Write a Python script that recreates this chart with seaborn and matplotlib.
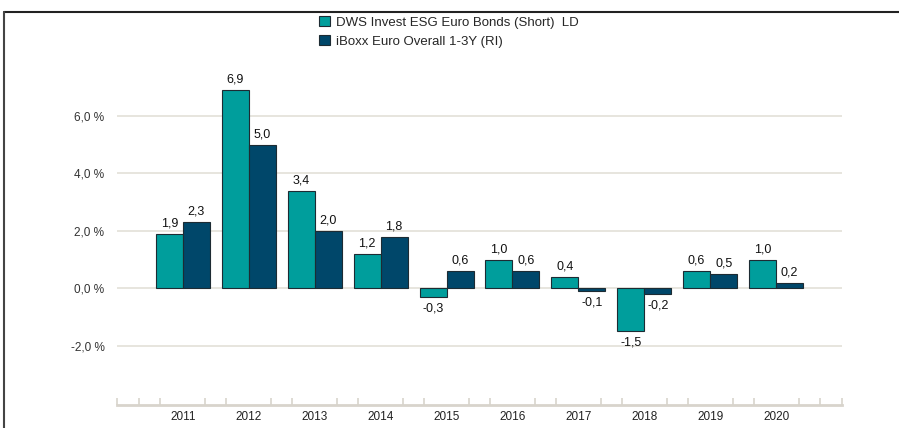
import numpy as np
import pandas as pd
import matplotlib
matplotlib.use('Agg')
import matplotlib.pyplot as plt
from matplotlib.lines import Line2D
from matplotlib.patches import Patch
import seaborn as sns

years = ['2011', '2012', '2013', '2014', '2015', '2016', '2017', '2018', '2019', '2020']
fund_name = 'DWS Invest ESG Euro Bonds (Short)  LD'
bench_name = 'iBoxx Euro Overall 1-3Y (RI)'
fund_vals = [1.9, 6.9, 3.4, 1.2, -0.3, 1.0, 0.4, -1.5, 0.6, 1.0]
bench_vals = [2.3, 5.0, 2.0, 1.8, 0.6, 0.6, -0.1, -0.2, 0.5, 0.2]
ytick_vals = [-2, 0, 2, 4, 6]

teal = '#009E9C'
navy = '#00476A'

df = pd.DataFrame({
    'year': years * 2,
    'value': fund_vals + bench_vals,
    'series': [fund_name] * len(years) + [bench_name] * len(years),
})

sns.set_style('white')
plt.rcParams['font.family'] = ['Liberation Sans', 'DejaVu Sans']

fig = plt.figure(figsize=(8.99, 4.28), dpi=100)
ax = fig.add_axes([0.1301, 0.0537, 0.8065, 0.7763])

sns.barplot(data=df, x='year', y='value', hue='series', order=years,
            hue_order=[fund_name, bench_name], palette=[teal, navy],
            saturation=1, width=0.82, edgecolor='#1d2b33', linewidth=0.8, ax=ax,
            legend=False)

# value labels
for cont in ax.containers:
    for bar in cont:
        h = bar.get_height()
        x = bar.get_x() + bar.get_width() / 2
        txt = f'{h:.1f}'.replace('.', ',')
        if h >= 0:
            ax.text(x, h + 0.15, txt, ha='center', va='bottom', fontsize=9, color='#111111')
        else:
            ax.text(x, h - 0.18, txt, ha='center', va='top', fontsize=9, color='#111111')

ax.set_xlim(-1, 10)
ax.set_ylim(-4.06, 7.5)
ax.set_yticks(ytick_vals)
ax.set_yticklabels([f'{v:.1f} %'.replace('.', ',') for v in ytick_vals], fontsize=8.5, color='#333333')
ax.yaxis.grid(True, color='#E3E0D8', linewidth=1.2)
ax.set_axisbelow(True)
ax.tick_params(axis='y', length=0, pad=9)

ax.tick_params(axis='x', which='major', bottom=True, length=0, pad=4, labelsize=8.5, labelcolor='#222222')
minor = []
for k in range(-1, 11):
    minor += [k - 0.34, k + 0.34]
minor = [m for m in minor if -1 <= m <= 10] + [-0.995, 9.995]
ax.set_xticks(minor, minor=True)
ax.tick_params(axis='x', which='minor', bottom=True, direction='in', length=5, width=1.2, color='#D8D4CC')
ax.set_xlabel('')
ax.set_ylabel('')

for s in ['top', 'right', 'left']:
    ax.spines[s].set_visible(False)
ax.spines['bottom'].set_color('#D8D4CC')
ax.spines['bottom'].set_linewidth(2)

# legend
handles = [Patch(facecolor=teal, edgecolor='#1d2b33', linewidth=0.8),
           Patch(facecolor=navy, edgecolor='#1d2b33', linewidth=0.8)]
fig.legend(handles, [fund_name, bench_name], loc='upper left',
           bbox_to_anchor=(0.349, 0.975), frameon=False, fontsize=9.5,
           handlelength=0.8, handleheight=0.8, handletextpad=0.5,
           labelspacing=0.5, borderaxespad=0)

# outer frame (top and left)
fig.add_artist(Line2D([4 / 899, 1], [1 - 12 / 428, 1 - 12 / 428], transform=fig.transFigure,
                      color='#222222', linewidth=1.5))
fig.add_artist(Line2D([4 / 899, 4 / 899], [0, 1 - 12 / 428], transform=fig.transFigure,
                      color='#444444', linewidth=1.5))

fig.savefig('out.png', dpi=100)
